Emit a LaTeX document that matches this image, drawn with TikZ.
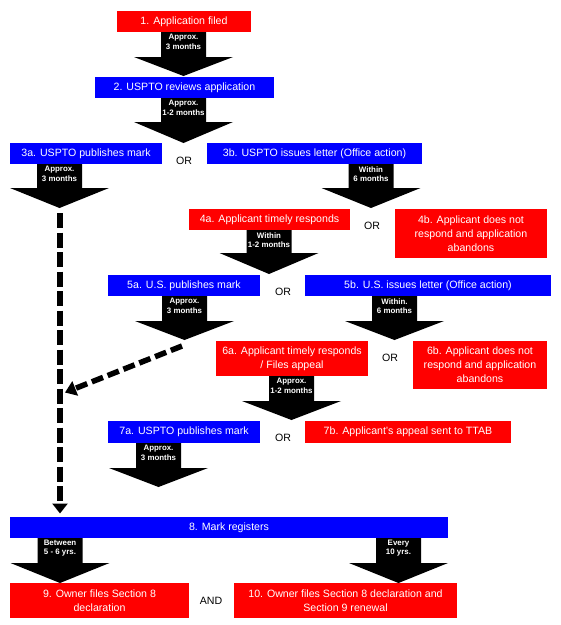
\documentclass[tikz,border=0pt]{standalone}
\usepackage{fontspec}
\setmainfont{Liberation Sans}
\usetikzlibrary{arrows.meta}
\definecolor{bred}{RGB}{255,0,0}
\definecolor{bblue}{RGB}{0,0,255}
\newcommand\blockarrow[4]{% cx, ystart, headtop, tip
  \fill[black] ({#1-22.5},#2) -- ({#1+22.5},#2) -- ({#1+22.5},#3) -- ({#1+49.5},#3)
    -- (#1,#4) -- ({#1-49.5},#3) -- ({#1-22.5},#3) -- cycle;}
\begin{document}
\begin{tikzpicture}[x=1pt,y=-1pt,
  box/.style={inner sep=0pt, align=center, text=white,
    font=\fontsize{10.6}{14}\selectfont},
  redbox/.style={box, fill=bred},
  bluebox/.style={box, fill=bblue},
  lbl/.style={inner sep=0pt, align=center, text=white,
    font=\fontsize{7.9}{9.5}\selectfont\bfseries},
  ortext/.style={inner sep=0pt, font=\fontsize{10.6}{12}\selectfont},
  dashconn/.style={line width=5.5pt, dash pattern=on 15pt off 4.5pt,
    -{Triangle[length=10pt,width=15pt]}},
  dashdiag/.style={line width=5.5pt, dash pattern=on 12pt off 5pt,
    -{Triangle[length=11pt,width=15pt]}}]
\useasboundingbox (0,0) rectangle (561,625);

% boxes
\node[redbox, minimum width=134pt, minimum height=21pt] (b1) at (184,21.5) {1. Application filed};
\node[bluebox, minimum width=179pt, minimum height=21pt] (b2) at (184.5,87.5) {2. USPTO reviews application};
\node[bluebox, minimum width=152pt, minimum height=21pt] (b3a) at (86,153.5) {3a. USPTO publishes mark};
\node[bluebox, minimum width=215pt, minimum height=21pt] (b3b) at (314.5,153.5) {3b. USPTO issues letter (Office action)};
\node[redbox, minimum width=161pt, minimum height=21pt] (b4a) at (269.5,219.5) {4a. Applicant timely responds};
\node[redbox, minimum width=152pt, minimum height=49pt] (b4b) at (471,233.5) {4b. Applicant does not\\respond and application\\abandons};
\node[bluebox, minimum width=152pt, minimum height=21pt] (b5a) at (184,285.5) {5a. U.S. publishes mark};
\node[bluebox, minimum width=246pt, minimum height=21pt] (b5b) at (428,285.5) {5b. U.S. issues letter (Office action)};
\node[redbox, minimum width=152pt, minimum height=35pt] (b6a) at (292,358.5) {6a. Applicant timely responds\\/ Files appeal};
\node[redbox, minimum width=134pt, minimum height=48pt] (b6b) at (480,365) {6b. Applicant does not\\respond and application\\abandons};
\node[bluebox, minimum width=152pt, minimum height=22pt] (b7a) at (184,432) {7a. USPTO publishes mark};
\node[redbox, minimum width=206pt, minimum height=22pt] (b7b) at (408,432) {7b. Applicant's appeal sent to TTAB};
\node[bluebox, minimum width=438pt, minimum height=21pt] (b8) at (229,527.5) {8. Mark registers};
\node[redbox, minimum width=179pt, minimum height=35pt] (b9) at (99.5,600.5) {9. Owner files Section 8\\declaration};
\node[redbox, minimum width=223pt, minimum height=35pt] (b10) at (345.5,600.5) {10. Owner files Section 8 declaration and\\Section 9 renewal};

% OR / AND
\node[ortext] (or1) at (184,161) {OR};
\node[ortext] (or2) at (372,226) {OR};
\node[ortext] (or3) at (283,292) {OR};
\node[ortext] (or4) at (390,358) {OR};
\node[ortext] (or5) at (283,438) {OR};
\node[ortext] (and1) at (211,600.5) {AND};

% block arrows
\blockarrow{183.5}{32}{57}{76}
\blockarrow{183.5}{98}{122}{143}
\blockarrow{59.5}{164}{188}{208}
\blockarrow{371}{164}{188}{208}
\blockarrow{269}{230}{253}{274}
\blockarrow{184.5}{296}{321}{340}
\blockarrow{394.5}{296}{321}{340}
\blockarrow{291.5}{376}{401}{420}
\blockarrow{158.5}{443}{468}{487}
\blockarrow{60}{538}{563}{583}
\blockarrow{398.5}{538}{563}{583}

% arrow labels
\node[lbl] (l1) at (183.5,42) {Approx.\\3 months};
\node[lbl] (l2) at (183.5,108) {Approx.\\1-2 months};
\node[lbl] (l3a) at (59.5,174) {Approx.\\3 months};
\node[lbl] (l3b) at (371,174) {Within\\6 months};
\node[lbl] (l4a) at (269,240) {Within\\1-2 months};
\node[lbl] (l5a) at (184.5,306) {Approx.\\3 months};
\node[lbl] (l5b) at (394.5,306) {Within.\\6 months};
\node[lbl] (l6a) at (291.5,386) {Approx.\\1-2 months};
\node[lbl] (l7a) at (158.5,453) {Approx.\\3 months};
\node[lbl] (l8l) at (60,548) {Between\\5 - 6 yrs.};
\node[lbl] (l8r) at (398.5,548) {Every\\10 yrs.};

% dashed connectors
\coordinate (d0) at (60,213);
\coordinate (d1) at (60,513.5);
\draw[dashconn] (d0) -- (d1);
\coordinate (e0) at (182,346);
\coordinate (e1) at (65,392.5);
\draw[dashdiag] (e0) -- (e1);
\end{tikzpicture}
\end{document}
